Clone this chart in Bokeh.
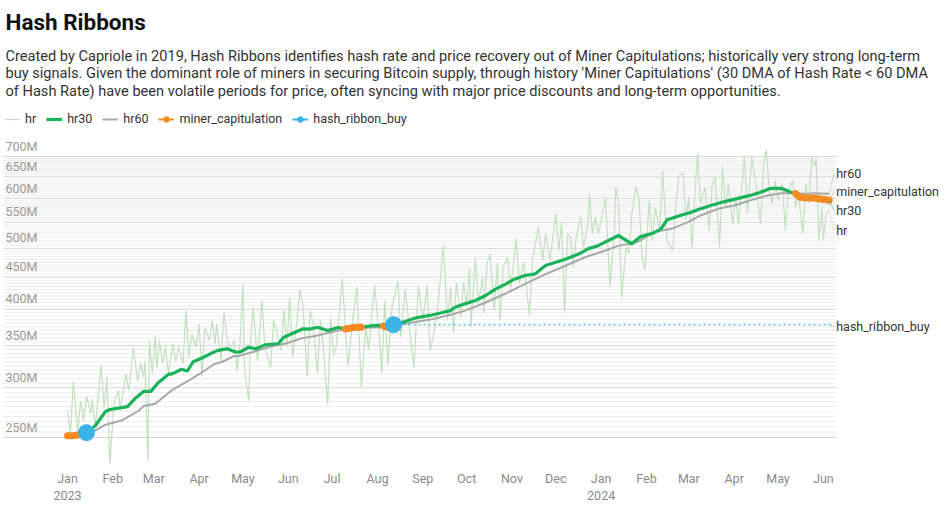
import math
import numpy as np
import pandas as pd
from bokeh.plotting import figure
from bokeh.models import (Range1d, Label, Legend, LegendItem, FixedTicker,
                          CustomJSTickFormatter, ColumnDataSource)
from bokeh.embed import file_html
from bokeh.resources import INLINE

START = pd.Timestamp("2023-01-01")

# ---- data (days since 2023-01-01, hash rate in millions TH/s) ----
hr_day = [0, 2, 4, 7, 9, 11, 13, 16, 17, 19, 23, 25, 27, 29, 32, 35, 36, 40, 42, 45, 48, 50, 52, 53, 55, 56, 58, 60, 61, 63,
          65, 67, 69, 72, 74, 76, 79, 81, 83, 85, 88, 90, 92, 94, 97, 99, 101, 102, 105, 107, 109, 111, 114, 116, 118, 120,
          121, 124, 125, 127, 130, 133, 135, 139, 141, 143, 146, 148, 150, 152, 154, 157, 159, 161, 164, 166, 168, 171, 173,
          175, 178, 180, 182, 184, 188, 191, 192, 195, 198, 201, 204, 206, 210, 213, 215, 217, 219, 222, 226, 228, 231, 234,
          237, 240, 243, 246, 248, 251, 254, 257, 260, 262, 264, 266, 269, 271, 273, 275, 276, 279, 281, 284, 285, 287, 289,
          292, 294, 296, 298, 301, 303, 307, 309, 312, 316, 318, 322, 325, 327, 330, 334, 336, 338, 340, 342, 344, 346, 348,
          351, 353, 356, 357, 359, 361, 363, 366, 368, 370, 371, 374, 375, 377, 379, 382, 384, 386, 389, 391, 393, 395, 398,
          400, 402, 405, 407, 410, 414, 416, 418, 421, 423, 425, 427, 429, 431, 433, 436, 439, 441, 443, 446, 448, 450, 452,
          455, 457, 459, 463, 465, 468, 471, 474, 476, 478, 480, 482, 484, 486, 489, 491, 493, 496, 498, 500, 503, 505, 507,
          509, 511, 512, 514, 516, 517, 519, 521]
hr_val = [276, 254, 306, 255, 286, 266, 291, 273, 288, 260, 326, 279, 312, 227, 286, 297, 276, 316, 297, 348, 308, 328, 312, 331,
          229, 357, 316, 363, 323, 357, 328, 348, 316, 352, 331, 348, 328, 398, 335, 365, 348, 379, 312, 374, 357, 384, 352, 379,
          331, 395, 361, 344, 357, 320, 354, 439, 323, 286, 348, 403, 331, 413, 348, 323, 384, 370, 344, 398, 348, 418, 335, 384,
          430, 408, 313, 398, 380, 316, 384, 348, 282, 388, 338, 350, 447, 344, 325, 384, 434, 300, 374, 345, 437, 370, 316, 413,
          326, 403, 444, 361, 430, 370, 323, 437, 384, 437, 344, 370, 419, 505, 384, 434, 367, 442, 388, 442, 403, 465, 374, 484,
          408, 450, 394, 474, 490, 398, 474, 384, 466, 484, 430, 518, 439, 475, 391, 478, 540, 478, 527, 478, 568, 496, 550, 394,
          527, 521, 466, 521, 561, 502, 547, 611, 527, 561, 527, 568, 603, 484, 434, 527, 626, 589, 417, 502, 490, 568, 628, 596,
          484, 462, 596, 515, 581, 534, 664, 515, 496, 581, 650, 660, 555, 603, 502, 603, 707, 589, 626, 534, 633, 650, 502, 675,
          581, 633, 547, 603, 547, 698, 568, 698, 630, 547, 675, 718, 618, 589, 640, 596, 633, 534, 618, 640, 581, 611, 527, 633,
          589, 698, 675, 698, 515, 581, 515, 568, 575]

hr30_day = [0, 7, 13, 19, 26, 29, 37, 41, 47, 52, 57, 62, 69, 72, 78, 82, 86, 92, 98, 103, 109, 115, 118, 124, 129, 135, 144,
            148, 155, 161, 166, 171, 178, 185, 191, 197, 200, 209, 214, 219, 224, 228, 233, 239, 248, 257, 262, 265, 272, 279,
            286, 293, 300, 306, 313, 320, 327, 334, 341, 350, 356, 363, 370, 377, 384, 386, 392, 401, 406, 410, 419, 426, 433,
            440, 447, 453, 460, 467, 474, 481, 488, 492, 497, 501, 508, 515, 521]
hr30_val = [251, 252, 254.6, 261, 275, 277, 279, 280, 289.5, 296, 296, 305.5, 315, 316, 321, 319, 330, 334.5, 340, 344, 346,
            342, 342, 348, 346, 351, 352.5, 361, 367, 372.3, 372, 374.5, 370, 374, 372, 374, 374.5, 376.8, 377, 375.4, 378,
            380.5, 383.8, 388, 391, 395.6, 398, 403, 408, 413, 420.6, 431, 439, 447, 452.6, 455.4, 469.6, 475, 481, 490, 499,
            505, 514.7, 524, 511.5, 508.5, 522, 529, 537, 555, 564, 570, 578, 585, 591.5, 596, 601.5, 607, 614, 623, 623, 618,
            611, 603, 601.5, 599, 596]

hr60_day = [0, 7, 13, 17, 26, 37, 49, 52, 60, 72, 84, 94, 100, 106, 114, 117, 127, 139, 150, 159, 171, 185, 200, 216, 233,
            250, 262, 272, 286, 299, 313, 327, 341, 354, 368, 377, 386, 392, 401, 413, 424, 433, 445, 456, 467, 479, 488, 497,
            506, 511, 521]
hr60_val = [253, 253.5, 254.5, 255, 262, 266, 276, 280.5, 283, 298, 309, 319.6, 327, 330, 337, 337, 342, 349, 353, 359, 363.3,
            370, 373.5, 374.5, 380, 386, 392, 398, 410, 423, 439, 455, 469.6, 484, 496, 505, 508.5, 514.7, 530.6, 537, 550,
            564, 578, 585, 596, 607, 612, 612, 611, 612, 611]

# miner capitulation periods (30 DMA < 60 DMA); None separates periods
mc_day = [0, 3, 6, 9, 12, None, 190, 193, 196, 199, 201, None, 216, 218, 220, 222, None,
          498, 501, 504, 508, 512, 515, 518, 521]
mc_val = [251.5, 251.5, 252, 252.5, 253.5, None, 372, 373, 374, 374.5, 374.5, None, 376, 375, 374, 375, None,
          611, 603, 602, 601.5, 600.5, 599, 598, 596]

buy_day = [13, 223]
buy_val = [254.5, 378]

y_ticks = [250, 300, 350, 400, 450, 500, 550, 600, 650, 700]
y_tick_labels = ["250M", "300M", "350M", "400M", "450M", "500M", "550M", "600M", "650M", "700M"]
y_minor_step = 5
month_names = ["Jan", "Feb", "Mar", "Apr", "May", "Jun", "Jul", "Aug", "Sep", "Oct", "Nov", "Dec"]

title_text = "Hash Ribbons"
subtitle_lines = [
    "Created by Capriole in 2019, Hash Ribbons identifies hash rate and price recovery out of Miner Capitulations; historically very strong long-term",
    "buy signals. Given the dominant role of miners in securing Bitcoin supply, through history 'Miner Capitulations' (30 DMA of Hash Rate < 60 DMA",
    "of Hash Rate) have been volatile periods for price, often syncing with major price discounts and long-term opportunities.",
]

# ---- colours / fonts ----
C_HR = "#c2e0bf"
C_HR30 = "#1bb35a"
C_HR60 = "#a8a8a8"
C_MC = "#f38a22"
C_BUY = "#3cb3e6"
FONT = "Roboto"

DAY_MS = 86400000.0


def to_ms(days):
    """days since START -> epoch milliseconds (NaN for gaps)"""
    return np.array([(START + pd.Timedelta(days=d)).value / 1e6 if d is not None else np.nan for d in days])


def to_arr(vals):
    return np.array([np.nan if v is None else v for v in vals], dtype=float)


# ---- geometry (pixels) ----
FIG_W, FIG_H = 944, 513
FRAME_H = 466                # frame covers the figure down to the x axis
B_BOTTOM = FIG_H - FRAME_H
X_ORIGIN_PX = 67             # where 2023-01-01 sits
PX_PER_DAY = 1.462
CHART_LEFT_PX, CHART_RIGHT_PX = 3, 836
Y_BASE_PX = 437              # where the first tick value sits
PX_PER_LN = 272.9


def day_at(px):
    return (px - X_ORIGIN_PX) / PX_PER_DAY


def val_at(py):
    return y_ticks[0] * math.exp((Y_BASE_PX - py) / PX_PER_LN)


X0 = START.value / 1e6 + day_at(0) * DAY_MS
X1 = START.value / 1e6 + day_at(FIG_W) * DAY_MS
Y_BOT, Y_TOP = val_at(FRAME_H), val_at(0)

p = figure(width=FIG_W, height=FIG_H, x_axis_type="datetime", y_axis_type="log",
           y_axis_location=None, x_range=Range1d(X0, X1), y_range=Range1d(Y_BOT, Y_TOP),
           output_backend="svg", toolbar_location=None,
           min_border_left=0, min_border_right=0, min_border_top=0, min_border_bottom=B_BOTTOM)
p.outline_line_color = None
p.background_fill_color = "white"
p.xgrid.grid_line_color = None
p.ygrid.grid_line_color = None

# horizontal gridlines, drawn only across the chart area
gx0 = START.value / 1e6 + day_at(CHART_LEFT_PX) * DAY_MS
gx1 = START.value / 1e6 + day_at(CHART_RIGHT_PX) * DAY_MS
minor = [v for v in range(y_ticks[0], y_ticks[-1] + 1, y_minor_step) if v not in y_ticks]
p.segment(x0=[gx0] * len(minor), x1=[gx1] * len(minor), y0=minor, y1=minor,
          line_color="#ececec", line_width=1)
p.segment(x0=[gx0] * len(y_ticks), x1=[gx1] * len(y_ticks), y0=y_ticks, y1=y_ticks,
          line_color="#d6d6d6", line_width=1)

# x axis
month_starts = pd.date_range(START, START + pd.Timedelta(days=hr_day[-1]), freq="MS")
xa = p.xaxis[0]
xa.ticker = FixedTicker(ticks=[t.value / 1e6 for t in month_starts], minor_ticks=[])
xa.formatter = CustomJSTickFormatter(args=dict(names=month_names), code="""
const d = new Date(tick);
const m = names[d.getUTCMonth()];
return d.getUTCMonth() == 0 ? m + "\\n" + d.getUTCFullYear() : m;
""")
xa.axis_line_color = None
xa.major_tick_line_color = None
xa.minor_tick_line_color = None
xa.major_label_standoff = -2
xa.major_label_text_color = "#8a8a8a"
xa.major_label_text_font = FONT
xa.major_label_text_font_size = "12.5px"
xa.major_label_text_line_height = 1.15

# ---- series ----
src_hr = ColumnDataSource(dict(x=to_ms(hr_day), y=to_arr(hr_val)))
src_30 = ColumnDataSource(dict(x=to_ms(hr30_day), y=to_arr(hr30_val)))
src_60 = ColumnDataSource(dict(x=to_ms(hr60_day), y=to_arr(hr60_val)))
src_mc = ColumnDataSource(dict(x=to_ms(mc_day), y=to_arr(mc_val)))
src_buy = ColumnDataSource(dict(x=to_ms(buy_day), y=to_arr(buy_val)))

r_hr = p.line("x", "y", source=src_hr, line_color=C_HR, line_width=1.2)
r_60 = p.line("x", "y", source=src_60, line_color=C_HR60, line_width=2)
r_30 = p.line("x", "y", source=src_30, line_color=C_HR30, line_width=3.2, line_join="round")
p.line("x", "y", source=src_mc, line_color=C_MC, line_width=7, line_join="round", line_cap="round")

# dotted continuation of the last buy signal
last_x = to_ms([hr_day[-1]])[0]
buy_last_x = to_ms([buy_day[-1]])[0]
p.line([buy_last_x, last_x + 2.5 * DAY_MS], [buy_val[-1], buy_val[-1]],
       line_color=C_BUY, line_width=1.5, line_dash="2 3", line_alpha=0.8)
p.scatter("x", "y", source=src_buy, size=16, color=C_BUY, line_color=C_BUY)

# ---- end labels ----
end_labels = [
    ("hr60", hr60_val[-1], 20, C_HR60),
    ("miner_capitulation", mc_val[-1], 9, C_MC),
    ("hr30", hr30_val[-1], -10, C_HR30),
    ("hr", hr_val[-1], -20, C_HR),
    ("hash_ribbon_buy", buy_val[-1], -2, C_BUY),
]
for txt, v, off, col in end_labels:
    v_lab = v * math.exp(off / PX_PER_LN)
    p.segment(x0=[last_x], y0=[v], x1=[last_x + 3.3 * DAY_MS], y1=[v_lab],
              line_color=col, line_width=1, line_dash="1 1")
    p.add_layout(Label(x=last_x, y=v, x_offset=7, y_offset=off, text=txt,
                       text_font=FONT, text_font_size="12.5px", text_color="#333333",
                       text_baseline="middle", text_align="left"))

# ---- y tick labels (drawn above gridlines at left) ----
for v, lab in zip(y_ticks, y_tick_labels):
    p.add_layout(Label(x=5, x_units="screen", y=v, y_units="data", y_offset=3, text=lab,
                       text_font=FONT, text_font_size="12.5px", text_color="#9a9a9a",
                       text_baseline="bottom", text_align="left"))

# ---- title and subtitle (screen units measured up from the frame bottom) ----
p.add_layout(Label(x=5, x_units="screen", y=FRAME_H - 21, y_units="screen", text=title_text,
                   text_font=FONT, text_font_size="22.5px", text_font_style="bold",
                   text_color="#111111", text_baseline="middle"))
for i, line in enumerate(subtitle_lines):
    p.add_layout(Label(x=5, x_units="screen", y=FRAME_H - 55 - i * 17.5, y_units="screen", text=line,
                       text_font=FONT, text_font_size="14.6px", text_color="#333333",
                       text_baseline="middle"))

# ---- legend: hidden copies of the series give the line+dot key glyphs ----
k_mc_l = p.line("x", "y", source=src_mc, line_color=C_MC, line_width=2, visible=False)
k_mc_s = p.scatter("x", "y", source=src_mc, size=7, color=C_MC, visible=False)
k_b_l = p.line("x", "y", source=src_buy, line_color=C_BUY, line_width=2, visible=False)
k_b_s = p.scatter("x", "y", source=src_buy, size=8, color=C_BUY, visible=False)
legend = Legend(items=[
    LegendItem(label="hr", renderers=[r_hr]),
    LegendItem(label="hr30", renderers=[r_30]),
    LegendItem(label="hr60", renderers=[r_60]),
    LegendItem(label="miner_capitulation", renderers=[k_mc_l, k_mc_s]),
    LegendItem(label="hash_ribbon_buy", renderers=[k_b_l, k_b_s]),
], orientation="horizontal", location=(4, FRAME_H - 126), border_line_color=None,
    background_fill_alpha=0, inactive_fill_alpha=0, padding=0, margin=0, spacing=10,
    glyph_width=16, glyph_height=14, label_width=1,
    label_standoff=5, label_text_font=FONT, label_text_font_size="12.5px", label_text_color="#333333",
    label_height=14)
p.add_layout(legend)

open("out.html", "w").write(file_html(p, INLINE))
